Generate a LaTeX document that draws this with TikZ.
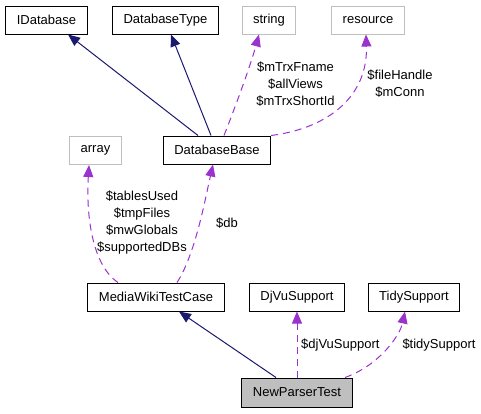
\documentclass[tikz,border=0pt]{standalone}
\usepackage{fontspec}
\setmainfont{Liberation Sans}
\usepackage{tikz}
\usetikzlibrary{arrows.meta, positioning, calc}
\definecolor{navyline}{RGB}{25,25,112}
\definecolor{memberline}{RGB}{154,50,205}
\definecolor{extgray}{RGB}{191,191,191}
\tikzset{
  cls/.style={rectangle, draw=black, line width=1pt, inner xsep=11pt,
    minimum height=28pt, font=\fontsize{13}{17}\selectfont},
  extcls/.style={cls, draw=extgray},
  maincls/.style={cls, fill=extgray, minimum height=29pt},
  inherit/.style={-{Triangle[length=12pt,width=10pt]}, color=navyline, line width=1pt},
  member/.style={-{Triangle[length=12pt,width=10pt]}, color=memberline, line width=1pt,
    dash pattern=on 7pt off 5pt},
  lbl/.style={font=\fontsize{13}{17}\selectfont, align=center, inner sep=0pt}
}
\begin{document}
\begin{tikzpicture}[x=1pt, y=-1pt]
  \useasboundingbox (0,0) rectangle (481,413);

  % classes
  \node[cls] (idb) at (46.5,20) {IDatabase};
  \node[cls] (dbtype) at (165.5,20) {DatabaseType};
  \node[extcls] (str) at (269,20) {string};
  \node[extcls] (res) at (368,20) {resource};
  \node[extcls] (arr) at (95.5,150.5) {array};
  \node[cls] (dbbase) at (217,150) {DatabaseBase};
  \node[cls] (mwtc) at (156,297) {MediaWikiTestCase};
  \node[cls] (djvu) at (297,297) {DjVuSupport};
  \node[cls] (tidy) at (414,297) {TidySupport};
  \node[maincls] (npt) at (297,392.5) {NewParserTest};

  % inheritance
  \draw[inherit] ([xshift=-19pt]dbbase.north) -- ([xshift=21.5pt]idb.south);
  \draw[inherit] ([xshift=-6pt]dbbase.north) -- ([xshift=5.5pt]dbtype.south);
  \draw[inherit] ([xshift=-21pt]npt.north) -- ([xshift=23pt]mwtc.south);

  % members
  \draw[member] ([xshift=7pt]dbbase.north) .. controls (240,95) and (252,60) .. ([xshift=-10pt]str.south);
  \node[lbl] at (295.5,84) {\$mTrxFname\\\$allViews\\\$mTrxShortId};

  \draw[member] (dbbase.north east) .. controls (330,128) and (368,95) .. ([xshift=-2pt]res.south);
  \node[lbl] at (400,83.5) {\$fileHandle\\\$mConn};

  \draw[member] ([xshift=-38pt]mwtc.north) .. controls (92,265) and (86,215) .. ([xshift=-6.5pt]arr.south);
  \node[lbl] at (142,222.5) {\$tablesUsed\\\$tmpFiles\\\$mwGlobals\\\$supportedDBs};

  \draw[member] ([xshift=21pt]mwtc.north) .. controls (195,255) and (205,200) .. ([xshift=-4pt]dbbase.south);
  \node[lbl] at (227,223) {\$db};

  \draw[member] (npt.north) -- (djvu.south);
  \node[lbl, anchor=west] at (301,345) {\$djVuSupport};

  \draw[member] ([xshift=48pt]npt.north) .. controls (380,365) and (400,335) .. ([xshift=-9pt]tidy.south);
  \node[lbl] at (439,345) {\$tidySupport};
\end{tikzpicture}
\end{document}
